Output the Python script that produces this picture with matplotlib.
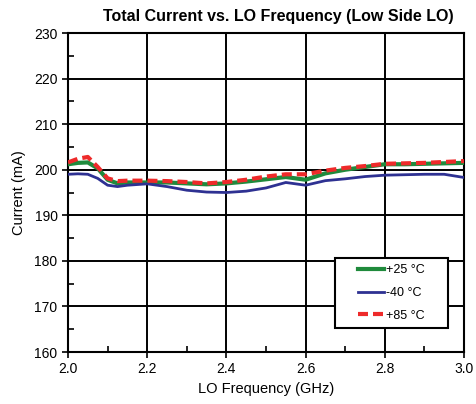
import matplotlib
matplotlib.use("Agg")
import matplotlib.pyplot as plt
from matplotlib.ticker import MultipleLocator
from matplotlib.patches import Rectangle

freq = [2.0, 2.025, 2.05, 2.075, 2.1, 2.125, 2.15, 2.2, 2.25, 2.3, 2.35, 2.4, 2.45,
        2.5, 2.55, 2.6, 2.65, 2.7, 2.75, 2.8, 2.85, 2.9, 2.95, 3.0]
i_p25 = [201.2, 201.5, 201.6, 200.3, 197.8, 197.0, 197.2, 197.2, 197.2, 197.0, 196.8, 197.0,
         197.4, 197.9, 198.4, 197.8, 199.2, 200.0, 200.6, 201.2, 201.2, 201.3, 201.4, 201.5]
i_m40 = [199.0, 199.1, 199.0, 198.1, 196.6, 196.3, 196.6, 196.9, 196.3, 195.5, 195.1, 195.0,
         195.3, 196.0, 197.2, 196.6, 197.6, 198.0, 198.5, 198.8, 198.9, 199.0, 199.0, 198.3]
i_p85 = [201.6, 202.4, 202.8, 200.6, 198.1, 197.5, 197.6, 197.6, 197.5, 197.3, 197.0, 197.3,
         197.8, 198.5, 199.0, 199.0, 199.8, 200.4, 200.8, 201.3, 201.4, 201.5, 201.7, 201.9]
labels = ["+25 \u00b0C", "-40 \u00b0C", "+85 \u00b0C"]

plt.rcParams['font.family'] = ['Liberation Sans', 'DejaVu Sans']

fig = plt.figure(figsize=(4.77, 4.04), dpi=100)
ax = fig.add_axes([0.1426, 0.1287, 0.8301, 0.7896])

ax.plot(freq, i_p25, color='#1f8a3c', lw=3.0, label=labels[0], zorder=3)
ax.plot(freq, i_m40, color='#2e3192', lw=2.0, label=labels[1], zorder=3)
ax.plot(freq, i_p85, color='#ee2a2a', lw=3.0, ls=(0, (2.4, 1.2)), label=labels[2], zorder=4)

ax.set_xlim(2.0, 3.0)
ax.set_ylim(160, 230)
ax.xaxis.set_major_locator(MultipleLocator(0.2))
ax.xaxis.set_minor_locator(MultipleLocator(0.1))
ax.yaxis.set_major_locator(MultipleLocator(10))
ax.yaxis.set_minor_locator(MultipleLocator(5))
ax.set_xticklabels([f"{v:.1f}" for v in ax.get_xticks()])
ax.grid(True, which='major', color='black', lw=1.4)
ax.set_axisbelow(True)
for s in ax.spines.values():
    s.set_linewidth(1.5)
    s.set_color('black')
ax.tick_params(which='major', direction='out', length=4, width=1.2, labelsize=10, colors='black')
ax.tick_params(which='minor', direction='in', length=4, width=1.2)

ax.set_xlabel("LO Frequency (GHz)", fontsize=10.5, labelpad=4)
ax.set_ylabel("Current (mA)", fontsize=10.5, labelpad=6)
ax.set_title("Total Current vs. LO Frequency (Low Side LO)", fontsize=11.5, fontweight='bold',
             pad=9, x=0.53)

box = Rectangle((0.674, 0.075), 0.286, 0.22, transform=ax.transAxes, facecolor='white',
                edgecolor='black', lw=1.5, zorder=5)
ax.add_patch(box)
leg = ax.legend(loc='center', bbox_to_anchor=(0.817, 0.185), fontsize=9, frameon=False,
                handlelength=2.1, handletextpad=0.15, labelspacing=0.85)
leg.set_zorder(6)

fig.savefig("out.png", dpi=100)
